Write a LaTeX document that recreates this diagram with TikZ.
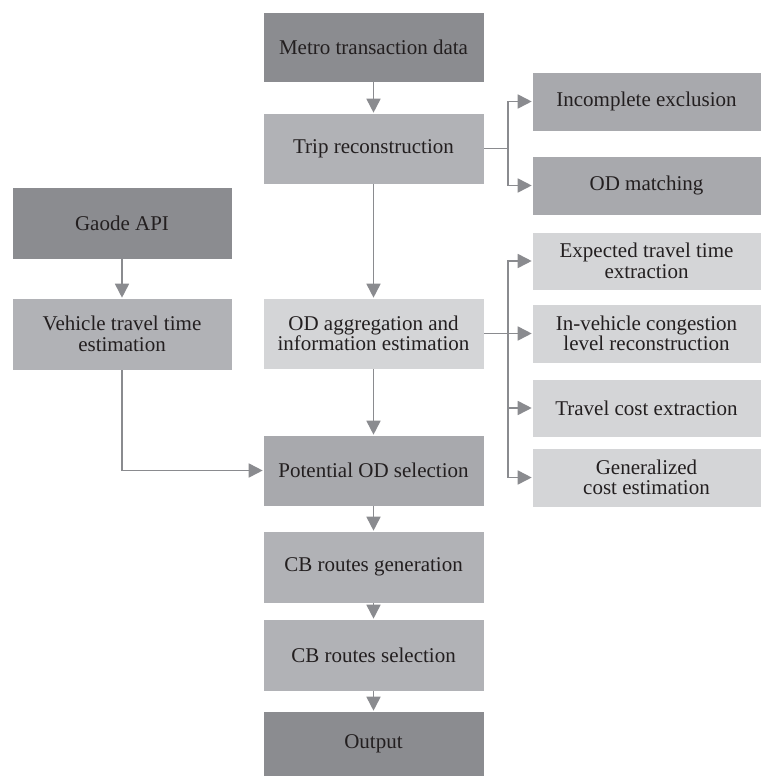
\documentclass[tikz,border=0pt]{standalone}
\usepackage{fontspec}
\setmainfont{Liberation Serif}
\usetikzlibrary{arrows.meta}
\definecolor{cdark}{HTML}{8B8C90}
\definecolor{cmid}{HTML}{B1B2B6}
\definecolor{cmidd}{HTML}{A8A9AD}
\definecolor{clight}{HTML}{D4D5D7}
\definecolor{cline}{HTML}{8A8B8F}
\definecolor{ctext}{HTML}{231F20}
\tikzset{
  box/.style={rectangle, draw=white, line width=0.6pt, text=ctext, align=center, inner sep=2pt,
    font=\fontsize{21}{20.5}\selectfont},
  mainbox/.style={box, minimum width=221pt},
  sidebox/.style={box, minimum width=229pt},
  leftbox/.style={box, minimum width=220pt},
  conn/.style={draw=cline, line width=1.7pt},
  arr/.style={conn, -{Triangle[length=14pt,width=14pt]}}
}
\begin{document}
\begin{tikzpicture}[x=1pt,y=-1pt]
\useasboundingbox (0,0) rectangle (761,776);
% main column
\node[mainbox, fill=cdark, minimum height=70pt] (metro) at (373.5,47) {Metro transaction data};
\node[mainbox, fill=cmid, minimum height=71pt] (trip) at (373.5,148.5) {Trip reconstruction};
\node[mainbox, fill=clight, minimum height=71pt] (odagg) at (373.5,333.5) {OD aggregation and\\information estimation};
\node[mainbox, fill=cmidd, minimum height=71pt] (pot) at (373.5,470.5) {Potential OD selection};
\node[mainbox, fill=cmid, minimum height=72pt] (cbgen) at (373.5,567) {CB routes generation};
\node[mainbox, fill=cmid, minimum height=72pt] (cbsel) at (373.5,655) {CB routes selection};
\node[mainbox, fill=cdark, minimum height=66pt] (out) at (373.5,744) {Output};
% left column
\node[leftbox, fill=cdark, minimum height=72pt] (gaode) at (122,223) {Gaode API};
\node[leftbox, fill=cmid, minimum height=72pt] (veh) at (122,334) {Vehicle travel time\\estimation};
% right column
\node[sidebox, fill=cmidd, minimum height=59pt] (inc) at (646.5,101.5) {Incomplete exclusion};
\node[sidebox, fill=cmidd, minimum height=59pt] (odm) at (646.5,185.5) {OD matching};
\node[sidebox, fill=clight, minimum height=58pt] (exp) at (646.5,261) {Expected travel time\\extraction};
\node[sidebox, fill=clight, minimum height=59pt] (inv) at (646.5,333.5) {In-vehicle congestion\\level reconstruction};
\node[sidebox, fill=clight, minimum height=58pt] (tc) at (646.5,408) {Travel cost extraction};
\node[sidebox, fill=clight, minimum height=59pt] (gc) at (646.5,477.5) {Generalized\\cost estimation};
% connectors
\draw[arr] (metro) -- (trip);
\draw[arr] (trip) -- (odagg);
\draw[arr] (odagg) -- (pot);
\draw[arr] (pot) -- (cbgen);
\draw[arr] (cbgen) -- (cbsel);
\draw[arr] (cbsel) -- (out);
\draw[arr] (gaode) -- (veh);
\draw[arr] (veh.south) |- (pot.west);
\draw[conn] (trip.east) -- ++(24,0) coordinate (tb);
\draw[arr] (tb) |- (inc.west);
\draw[arr] (tb) |- (odm.west);
\draw[conn] (odagg.east) -- ++(24,0) coordinate (ob);
\draw[arr] (ob) |- (exp.west);
\draw[arr] (ob) |- (inv.west);
\draw[arr] (ob) |- (tc.west);
\draw[arr] (ob) |- (gc.west);
\end{tikzpicture}
\end{document}
